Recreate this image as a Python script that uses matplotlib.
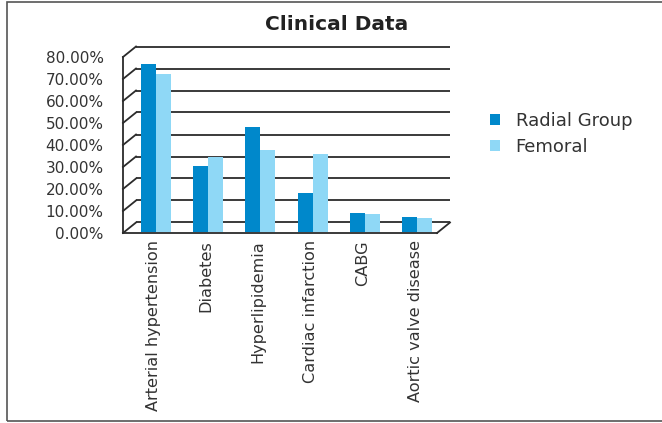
import matplotlib
matplotlib.use("Agg")
import matplotlib.pyplot as plt
import matplotlib.transforms as mtransforms
from matplotlib.patches import Rectangle, Patch
import numpy as np

plt.rcParams["font.family"] = ["DejaVu Sans"]

categories = ["Arterial hypertension", "Diabetes", "Hyperlipidemia",
              "Cardiac infarction", "CABG", "Aortic valve disease"]
radial = [76.2, 30.2, 47.6, 17.6, 8.6, 6.8]
femoral = [71.6, 34.0, 37.2, 35.4, 8.2, 6.4]
series_names = ["Radial Group", "Femoral"]
yticks = [0, 10, 20, 30, 40, 50, 60, 70, 80]
title = "Clinical Data"

c_radial = "#0088CB"
c_femoral = "#8FD8F6"
line_c = "#2b2b2b"
text_c = "#333333"

W, H = 662, 423
fig = plt.figure(figsize=(W / 100, H / 100), dpi=100)
fig.patch.set_facecolor("white")

# front plane of the pseudo-3D plot area
ax = fig.add_axes([123 / W, 190 / H, 314 / W, 176 / H])
ax.set_xlim(0, len(categories))
ax.set_ylim(0, 80)
ax.set_facecolor("none")

# depth of the box (pixels)
dx, dy = 13, 10.5
back = mtransforms.offset_copy(ax.transData, fig=fig, x=dx, y=dy, units="dots")
mid = mtransforms.offset_copy(ax.transData, fig=fig, x=6.5, y=1, units="dots")

n = len(categories)
# back-wall gridlines
for v in yticks:
    ax.plot([0, n], [v, v], color=line_c, lw=1.3, transform=back,
            clip_on=False, solid_capstyle="butt", zorder=1)

# depth connectors: pixel depth expressed in data units
fig.canvas.draw()
p0 = ax.transData.transform((0, 0))
p1 = ax.transData.transform((1, 10))
sx = (p1[0] - p0[0])
sy = (p1[1] - p0[1]) / 10
ddx, ddy = dx / sx, dy / sy
for v in yticks:
    ax.plot([0, ddx], [v, v + ddy], color=line_c, lw=1.3, clip_on=False, zorder=1)
ax.plot([n, n + ddx], [0, ddy], color=line_c, lw=1.3, clip_on=False, zorder=1)

# bars
x = np.arange(n) + 0.5
bw = 0.285
ax.bar(x - bw / 2, radial, width=bw, color=c_radial, transform=mid, zorder=3)
ax.bar(x + bw / 2, femoral, width=bw, color=c_femoral, transform=mid, zorder=3)

# spines: front-left edge and front floor edge
for s in ["top", "right"]:
    ax.spines[s].set_visible(False)
for s in ["left", "bottom"]:
    ax.spines[s].set_color(line_c)
    ax.spines[s].set_linewidth(1.3)
    ax.spines[s].set_zorder(2)

ax.set_yticks(yticks)
ax.set_yticklabels([f"{v:.2f}%" for v in yticks], fontsize=11, color=text_c)
ax.tick_params(axis="y", length=0, pad=14)
ax.set_xticks([])

lab_tr = mtransforms.offset_copy(ax.transData, fig=fig, x=4.5, y=-7, units="dots")
for xi, name in zip(x, categories):
    ax.text(xi, 0, name, rotation=90, ha="center", va="top", fontsize=11.6,
            color=text_c, transform=lab_tr, clip_on=False)

handles = [Patch(facecolor=c_radial, edgecolor="none"),
           Patch(facecolor=c_femoral, edgecolor="none")]
fig.legend(handles, series_names, loc="center left",
           bbox_to_anchor=(474 / W, 1 - 134 / H), frameon=False,
           fontsize=13, handlelength=0.55, handleheight=0.55,
           handletextpad=0.85, labelspacing=0.42, labelcolor=text_c)

fig.text(337 / W, 1 - 24 / H, title, ha="center", va="center",
         fontsize=14.5, fontweight="bold", color="#222222")

fig.patches.append(Rectangle((7 / W, 2 / H), 1.0, 419 / H, transform=fig.transFigure,
                             fill=False, edgecolor="#555555", lw=1.2, clip_on=False))

fig.savefig("out.png", dpi=100, facecolor="white")
